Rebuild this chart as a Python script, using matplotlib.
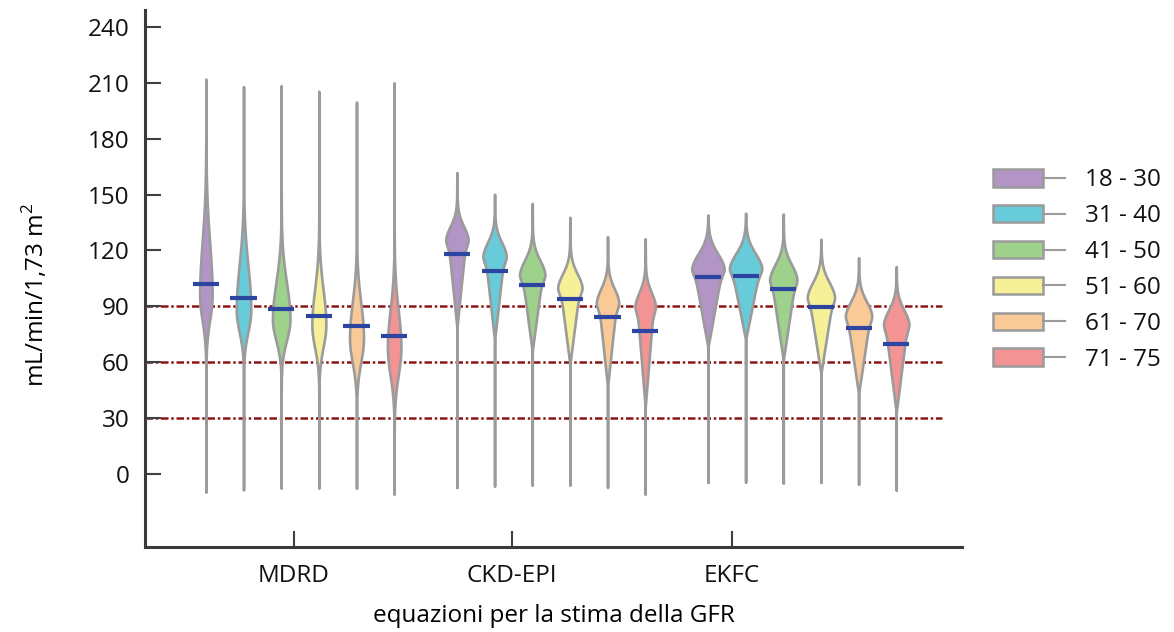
import numpy as np
import matplotlib
matplotlib.use("Agg")
import matplotlib.pyplot as plt
from matplotlib.legend_handler import HandlerBase
from matplotlib.patches import Rectangle, Patch
from matplotlib.lines import Line2D

plt.rcParams["font.family"] = ["Open Sans", "DejaVu Sans"]
plt.rcParams["mathtext.fontset"] = "custom"
plt.rcParams["mathtext.rm"] = "Open Sans"
plt.rcParams["text.color"] = "#111111"

# ---- data -------------------------------------------------------------
equations = ["MDRD", "CKD-EPI", "EKFC"]
age_groups = ["18 - 30", "31 - 40", "41 - 50", "51 - 60", "61 - 70", "71 - 75"]
colors = ["#b394c7", "#67cbd9", "#9dd18c", "#f6f199", "#f9c997", "#f39393"]

# median eGFR (mL/min/1,73 m2) per equation and age group
medians = {
    "MDRD":    [102.0, 94.5, 88.8, 84.7, 79.3, 74.1],
    "CKD-EPI": [118.3, 109.2, 101.3, 93.8, 84.5, 76.8],
    "EKFC":    [105.8, 106.1, 99.2, 89.5, 78.6, 69.8],
}
minima = {
    "MDRD":    [-9.8, -8.6, -7.7, -7.7, -7.7, -10.9],
    "CKD-EPI": [-7.2, -6.4, -5.9, -5.9, -7.2, -10.7],
    "EKFC":    [-4.5, -4.3, -4.8, -4.5, -5.5, -8.6],
}
maxima = {
    "MDRD":    [212.0, 208.0, 208.5, 205.5, 199.7, 210.0],
    "CKD-EPI": [161.8, 150.2, 145.3, 137.8, 127.4, 126.3],
    "EKFC":    [139.0, 140.0, 139.6, 126.0, 116.1, 111.3],
}
# density shape: mode, spread below / above the mode, length of lower funnel
modes = {
    "MDRD":    [96.0, 88.0, 83.0, 80.0, 73.0, 68.0],
    "CKD-EPI": [125.6, 116.7, 106.8, 99.8, 91.8, 89.8],
    "EKFC":    [109.9, 110.0, 104.0, 94.5, 84.5, 80.0],
}
spread_low = {
    "MDRD":    [19.0, 16.5, 16.0, 17.0, 18.5, 21.0],
    "CKD-EPI": [5.0, 5.0, 5.0, 5.0, 5.0, 5.0],
    "EKFC":    [5.0, 5.0, 5.0, 5.0, 5.0, 5.0],
}
spread_up = {
    "MDRD":    [40.0, 34.0, 28.0, 27.0, 27.0, 28.0],
    "CKD-EPI": [10.5, 11.0, 11.5, 11.0, 11.0, 11.0],
    "EKFC":    [12.0, 12.0, 12.0, 12.0, 11.5, 11.5],
}
funnel_len = {
    "MDRD":    [1.0, 1.0, 1.0, 1.0, 1.0, 1.0],
    "CKD-EPI": [47.0, 45.0, 41.0, 41.0, 45.0, 54.0],
    "EKFC":    [42.0, 38.0, 43.0, 40.5, 41.5, 47.0],
}
funnel_share = {"MDRD": 0.0, "CKD-EPI": 0.8, "EKFC": 0.87}
upper_tail = {"MDRD": 0.0, "CKD-EPI": 0.12, "EKFC": 0.08}
# relative peak density of each distribution
peak_density = {
    "MDRD":    [1.25, 1.45, 1.75, 1.40, 1.40, 1.35],
    "CKD-EPI": [2.25, 2.35, 2.55, 2.45, 2.25, 2.05],
    "EKFC":    [3.25, 3.25, 2.75, 2.75, 2.65, 2.55],
}

ref_levels = [30, 60, 90]
y_ticks = list(range(0, 241, 30))
x_tick_pos = [-0.024, 0.845, 1.721]


def profile(y, mode, s_lo, s_up, flen, share, tail):
    d = mode - y
    low = (1 - share) * np.exp(-(d / s_lo) ** 2) + share * np.clip(1 - d / flen, 0, 1)
    u = np.clip(y - mode, 0, None)
    up = (1 - tail) * np.exp(-(u / s_up) ** 2) + tail * np.exp(-u / 12.0)
    return np.where(y <= mode, low, up)


# ---- figure -----------------------------------------------------------
FS = 17.5
fig = plt.figure(figsize=(11.74, 6.32), dpi=100)
ax = fig.add_axes([145 / 1174, 85 / 632, 817 / 1174, 537 / 632])
ax.set_xlim(-0.6175, 2.637)
ax.set_ylim(-39.2, 249.1)

step = 0.15
width_per_density = 0.0398
stats, positions, widths, fills = [], [], [], []
for g, eq in enumerate(equations):
    for k in range(len(age_groups)):
        coords = np.linspace(minima[eq][k], maxima[eq][k], 900)
        vals = profile(coords, modes[eq][k], spread_low[eq][k], spread_up[eq][k],
                       funnel_len[eq][k], funnel_share[eq], upper_tail[eq])
        stats.append(dict(coords=coords, vals=vals, mean=medians[eq][k],
                          median=medians[eq][k], min=minima[eq][k], max=maxima[eq][k]))
        positions.append(g + (k - 2.5) * step)
        widths.append(peak_density[eq][k] * width_per_density)
        fills.append(colors[k])

parts = ax.violin(stats, positions=positions, widths=widths,
                  showmeans=False, showextrema=False, showmedians=False)
for body, c in zip(parts["bodies"], fills):
    body.set_facecolor(c)
    body.set_edgecolor("#9b9b9b")
    body.set_linewidth(1.9)
    body.set_alpha(1)
    body.set_zorder(3)

all_medians = [m for eq in equations for m in medians[eq]]
positions = np.array(positions)
ax.hlines(all_medians, positions - 0.052, positions + 0.052,
          colors="#2b45a0", linewidth=3.0, zorder=4)

ax.hlines(ref_levels, ax.get_xlim()[0], 2.558, colors="#8b1414", linewidth=1.8,
          linestyles=[(0, (3, 1.1, 1, 1.1))], zorder=1)

# ---- axes styling -----------------------------------------------------
for side in ("top", "right"):
    ax.spines[side].set_visible(False)
for side in ("left", "bottom"):
    ax.spines[side].set_color("#3a3a3a")
    ax.spines[side].set_linewidth(2.2)

ax.set_yticks(y_ticks)
ax.set_xticks(x_tick_pos, equations)
ax.tick_params(axis="both", direction="in", length=11.5, width=1.5,
               color="#404040", labelsize=FS, labelcolor="#111111")
ax.tick_params(axis="y", pad=11)
ax.tick_params(axis="x", pad=12)

ax.set_xlabel("equazioni per la stima della GFR", fontsize=FS, labelpad=12)
ax.set_ylabel("mL/min/1,73 m$^2$", fontsize=FS)
ax.yaxis.set_label_coords(-0.116, 0.47)


class BoxStemHandler(HandlerBase):
    def create_artists(self, legend, orig_handle, xdescent, ydescent,
                       width, height, fontsize, trans):
        bw = width * 0.7
        rect = Rectangle((-xdescent, -ydescent), bw, height,
                         facecolor=orig_handle.get_facecolor(),
                         edgecolor="#9b9b9b", linewidth=1.8, transform=trans)
        stem = Line2D([-xdescent + bw, -xdescent + width],
                      [-ydescent + height / 2] * 2, color="#9b9b9b",
                      linewidth=1.5, transform=trans)
        return [rect, stem]


handles = [Patch(facecolor=c) for c in colors]
fig.legend(handles, age_groups, handler_map={Patch: BoxStemHandler()},
           loc="center left", bbox_to_anchor=(993 / 1174, 1 - 270 / 632),
           bbox_transform=fig.transFigure, frameon=False, fontsize=FS,
           handlelength=2.96, handleheight=0.74, handletextpad=0.82,
           labelspacing=0.49, borderpad=0, borderaxespad=0)

fig.savefig("out.png", dpi=100)
